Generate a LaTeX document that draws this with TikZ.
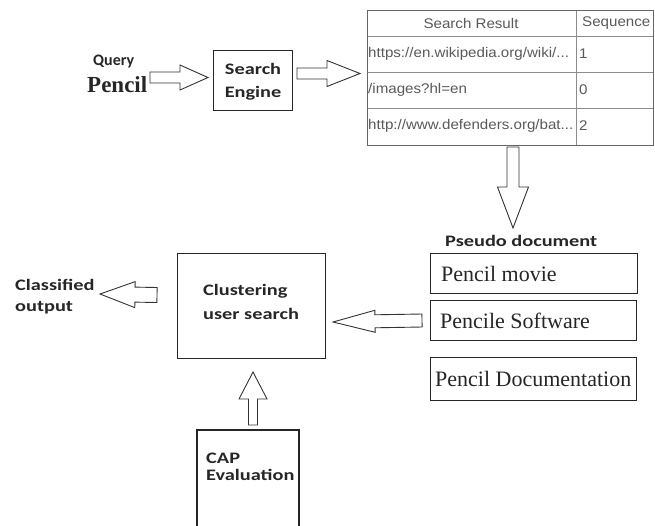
\documentclass[tikz,border=0pt]{standalone}
\usepackage{fontspec}
\setmainfont{Liberation Serif}
\newfontfamily\calibri{Carlito}
\newfontfamily\calibriwide[FakeStretch=1.27]{Carlito}
\newfontfamily\arial[FakeStretch=1.08]{Liberation Sans}
\usetikzlibrary{calc}

% hollow block arrow from #2 to #3: shaft half width #4, head half width #5, head length #6
\newcommand\blockarrow[6][]{%
  \draw[blockline,#1] let \p1=(#2), \p2=(#3),
    \n1={atan2(\y2-\y1,\x2-\x1)}, \n2={veclen(\x2-\x1,\y2-\y1)} in
    [shift={(\p1)}, rotate=\n1]
    (0,-#4) -- ({\n2-#6},-#4) -- ({\n2-#6},-#5) -- (\n2,0)
    -- ({\n2-#6},#5) -- ({\n2-#6},#4) -- (0,#4) -- cycle;}

\begin{document}
\begin{tikzpicture}[x=1pt,y=-1pt,
  blockline/.style={draw=black!80, line width=0.9pt, line join=miter},
  box/.style={draw=black!85, line width=1.1pt, anchor=north west, inner sep=0pt},
  label/.style={font=\calibriwide\bfseries\fontsize{16}{#1}\selectfont, align=left, text=black!85, inner sep=0pt},
  label/.default=20,
  serif/.style={font=\fontsize{22}{24}\selectfont, text=black!85, anchor=west, inner sep=0pt},
  cell/.style={font=\arial\fontsize{14}{16}\selectfont, text=black!65, anchor=west, inner sep=0pt},
  grid/.style={draw=black!45, line width=0.6pt}
]
\useasboundingbox (0,0) rectangle (655,525);

% query
\node[font=\calibri\bfseries\fontsize{16}{18}\selectfont, text=black!85, anchor=west, inner sep=0pt] (query) at (93,62) {Query};
\node[font=\bfseries\fontsize{23}{25}\selectfont, anchor=west, text=black!85, inner sep=0pt] (pencil) at (87,85) {Pencil};

% search engine
\node[box, minimum width=79pt, minimum height=60pt] (engine) at (213,50) {};
\node[label=23, align=center] at ([yshift=-1pt]engine.center) {Search\\Engine};

% search result table
\coordinate (tnw) at (367,10);
\coordinate (tse) at (653,145);
\draw[grid] (367,36) -- (653,36);
\draw[grid] (367,72) -- (653,72);
\draw[grid] (367,108) -- (653,108);
\draw[grid] (576,10) -- (576,145);
\draw[draw=black!60, line width=0.9pt] (tnw) rectangle (tse);
\node[cell, anchor=center] (hres) at (471,23) {Search Result};
\node[cell] (hseq) at (582,23) {Sequence};
\node[cell] (r1) at (368,54) {https://en.wikipedia.org/wiki/...};
\node[cell] (s1) at (579,54) {1};
\node[cell] (r2) at (368,90) {/images?hl=en};
\node[cell] (s2) at (579,90) {0};
\node[cell] (r3) at (368,126) {http://www.defenders.org/bat...};
\node[cell] (s3) at (579,126) {2};

% pseudo document
\node[label, anchor=west] (pseudo) at (445,241) {Pseudo document};
\node[box, minimum width=207pt, minimum height=40pt] (movie) at (430,253) {};
\node[serif] at ([xshift=11pt]movie.west) {Pencil movie};
\node[box, minimum width=206pt, minimum height=40pt] (soft) at (430,300) {};
\node[serif] at ([xshift=10pt]soft.west) {Pencile Software};
\node[box, minimum width=206pt, minimum height=43pt] (docu) at (430,357) {};
\node[serif] at ([xshift=5pt]docu.west) {Pencil Documentation};

% clustering
\node[box, minimum width=148pt, minimum height=105pt] (clust) at (177,253) {};
\node[label=24, anchor=west] at (203,302) {Clustering\\user search};

% output
\node[label=21, anchor=west] (out) at (15,297) {Classified\\output};

% CAP evaluation (box runs off the bottom edge)
\draw[draw=black!85, line width=1.1pt] (197,526) -- (197,430) -- (299,430) -- (299,526);
\node[label=17, anchor=west] (cap) at (206,467) {CAP\\Evaluation};

% arrow end points
\coordinate (a1s) at (150,77.5);  \coordinate (a1e) at (208,77.5);
\coordinate (a2s) at (297,73.5);  \coordinate (a2e) at (360,73.5);
\coordinate (a3s) at (513,147);   \coordinate (a3e) at (513,228);
\coordinate (a4s) at (422,320.5); \coordinate (a4e) at (333,322);
\coordinate (a5s) at (157,295);   \coordinate (a5e) at (100,294);
\coordinate (a6s) at (253,425);   \coordinate (a6e) at (253,372);

\blockarrow{a1s}{a1e}{5.5}{12.5}{28}
\blockarrow{a2s}{a2e}{5.5}{13}{33}
\blockarrow{a3s}{a3e}{6}{15.5}{41}
\blockarrow{a4s}{a4e}{6.5}{11}{42}
\blockarrow{a5s}{a5e}{7.5}{13}{35}
\blockarrow{a6s}{a6e}{4.5}{14}{27}
\end{tikzpicture}
\end{document}
